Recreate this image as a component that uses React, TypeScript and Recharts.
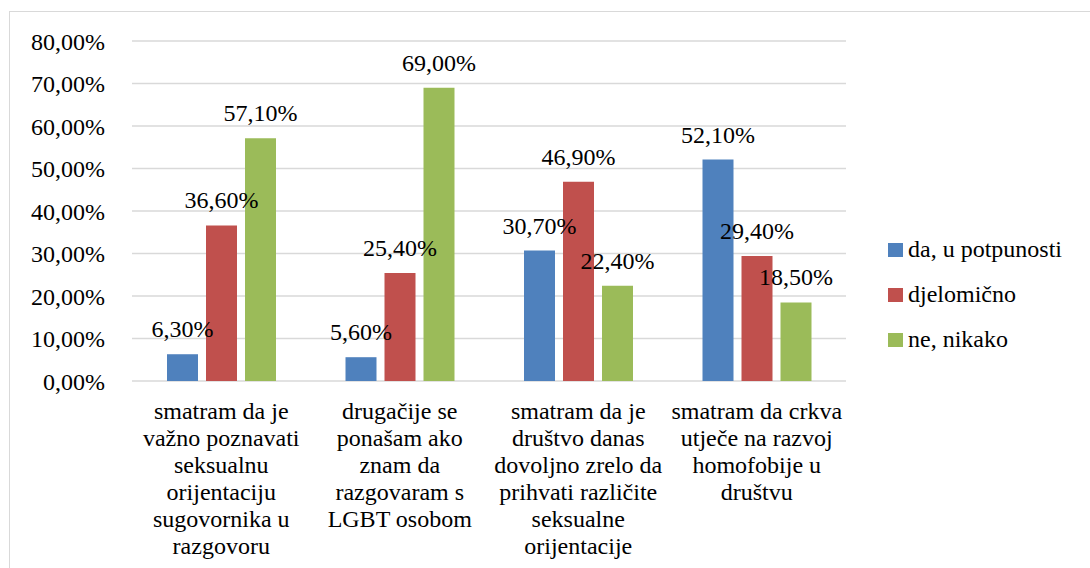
import React from 'react';
import { BarChart, Bar, XAxis, YAxis, CartesianGrid, LabelList, Legend } from 'recharts';

const categories = [
  'smatram da je\nvažno poznavati\nseksualnu\norijentaciju\nsugovornika u\nrazgovoru',
  'drugačije se\nponašam ako\nznam da\nrazgovaram s\nLGBT osobom',
  'smatram da je\ndruštvo danas\ndovoljno zrelo da\nprihvati različite\nseksualne\norijentacije',
  'smatram da crkva\nutječe na razvoj\nhomofobije u\ndruštvu',
];
const daValues = [6.3, 5.6, 30.7, 52.1];
const djelomicnoValues = [36.6, 25.4, 46.9, 29.4];
const neValues = [57.1, 69.0, 22.4, 18.5];
const seriesNames = ['da, u potpunosti', 'djelomično', 'ne, nikako'];
const seriesColors = ['#4F81BD', '#C0504D', '#9BBB59'];
const yTicks = [0, 10, 20, 30, 40, 50, 60, 70, 80];

const data = categories.map((c, i) => ({
  cat: c,
  da: daValues[i],
  dj: djelomicnoValues[i],
  ne: neValues[i],
}));

const FONT = "'Liberation Serif', Tinos, 'Times New Roman', Times, 'DejaVu Serif', serif";
const fmt = (v: number) => `${Number(v).toFixed(2).replace('.', ',')}%`;

const CatTick = (props: any) => {
  const { x, y, payload } = props;
  const lines = String(payload.value).split('\n');
  return (
    <text x={x} y={y} textAnchor="middle" style={{ fontFamily: FONT }} fontSize={24} fill="#000">
      {lines.map((l, i) => (
        <tspan key={i} x={x} y={y + 38 + i * 27}>{l}</tspan>
      ))}
    </text>
  );
};

const LegendContent = () => (
  <div style={{ fontFamily: FONT, fontSize: 24, color: '#000' }}>
    {seriesNames.map((n, i) => (
      <div key={n} style={{ height: 45, display: 'flex', alignItems: 'center', whiteSpace: 'nowrap' }}>
        <span style={{ display: 'inline-block', width: 15, height: 14, background: seriesColors[i], marginRight: 5 }} />
        <span>{n}</span>
      </div>
    ))}
  </div>
);

export default function App() {
  const keys = ['da', 'dj', 'ne'];
  return (
    <div style={{ position: 'absolute', left: 0, top: 0, width: 1090, height: 568, background: '#fff', overflow: 'hidden', fontFamily: FONT }}>
      <div style={{ position: 'absolute', left: 9, top: 11, width: 1100, height: 600, border: '1px solid #d9d9d9' }} />
      <div style={{ position: 'absolute', left: 0, top: 0 }}>
        <BarChart
          width={1090}
          height={568}
          data={data}
          margin={{ top: 41, right: 244, bottom: 0, left: 0 }}
          barGap={8}
          barSize={31}
          style={{ fontFamily: FONT }}
        >
          <CartesianGrid vertical={false} stroke="#d9d9d9" strokeWidth={1.3} />
          <XAxis
            dataKey="cat"
            axisLine={false}
            tickLine={false}
            tickSize={0}
            tickMargin={0}
            height={187}
            interval={0}
            tick={<CatTick />}
          />
          <YAxis
            domain={[0, 80]}
            ticks={yTicks}
            width={132}
            axisLine={false}
            tickLine={false}
            tickSize={0}
            tickMargin={27}
            tickFormatter={fmt}
            tick={{ fontSize: 24, fill: '#000', style: { fontFamily: FONT } }}
          />
          <Legend
            layout="vertical"
            align="center"
            verticalAlign="middle"
            content={<LegendContent />}
            wrapperStyle={{ left: 888, top: 227, width: 'auto', height: 'auto' }}
          />
          {keys.map((k, i) => (
            <Bar key={k} dataKey={k} name={seriesNames[i]} fill={seriesColors[i]} isAnimationActive={false}>
              <LabelList
                dataKey={k}
                position="top"
                offset={17}
                formatter={(v: any) => fmt(v)}
                fontSize={24}
                fill="#000"
                style={{ fontFamily: FONT }}
              />
            </Bar>
          ))}
        </BarChart>
      </div>
    </div>
  );
}
